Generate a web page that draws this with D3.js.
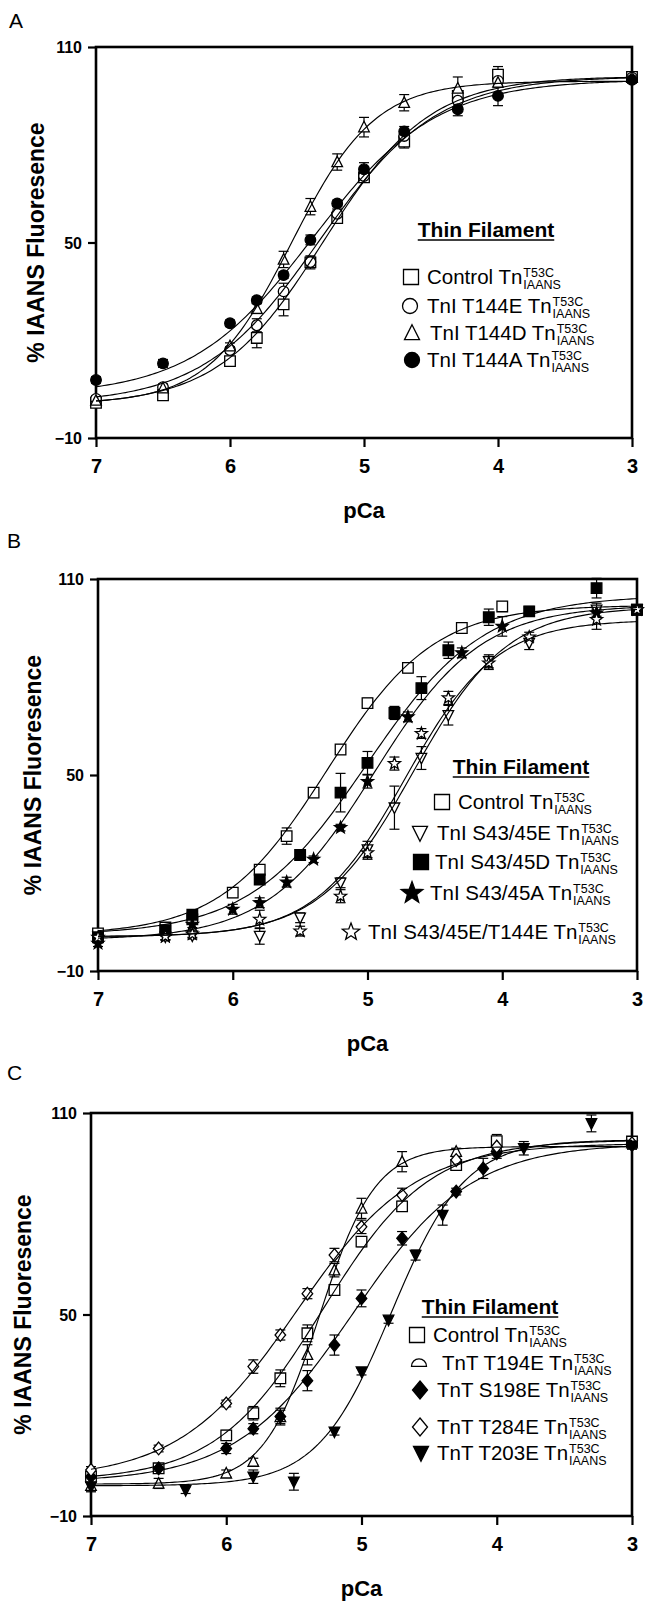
<!DOCTYPE html>
<html>
<head>
<meta charset="utf-8">
<script src="https://cdn.jsdelivr.net/npm/d3@7"></script>
<style>
  body { margin: 0; background: #fff; }
  svg { display: block; }
</style>
</head>
<body>
<svg id="fig" width="648" height="1604"></svg>
<script>
// ---------- shared axis ticks ----------
const pcaTicks = [7, 6, 5, 4, 3];
const fluorTicks = [-10, 50, 110];

// ---------- Panel A: TnI T144 mutants ----------
const aPCa = [7, 6.5, 6.0, 5.8, 5.6, 5.4, 5.2, 5.0, 4.7, 4.3, 4.0, 3.0];
const aControl    = [0.8, 3.1, 13.6, 20.7, 31.0, 43.9, 57.5, 70.0, 81.0, 95.0, 101.5, 100.8];
const aControlErr = [1, 1, 1.2, 3.0, 3.5, 2.0, 1.5, 1.5, 2.0, 1.5, 2.5, 1];
const aT144E      = [2.0, 5.6, 17.0, 24.6, 35.0, 44.0, 58.8, 70.4, 82.7, 93.5, 99.6, 100.6];
const aT144EErr   = [1, 1, 1, 2.0, 2.5, 1.5, 1.5, 1.5, 1.5, 2.0, 1.5, 1];
const aT144D      = [1.5, 5.3, 18.2, 29.7, 44.8, 61.0, 74.7, 85.4, 92.9, 97.3, 99.1, 100.6];
const aT144DErr   = [1, 1, 1, 1.5, 2.5, 2.5, 2.5, 3.0, 2.5, 3.5, 1.5, 1];
const aT144A      = [7.8, 12.9, 25.2, 32.3, 40.0, 50.8, 62.0, 72.5, 84.1, 90.9, 95.0, 99.9];
const aT144AErr   = [1, 1.2, 1, 1, 1, 1.5, 1, 2.0, 1.5, 2.0, 3.0, 1];
// Hill fits: [bottom, top, pCa50, Hill coefficient]
const aFitControl = [0, 101, 5.30, 1.1];
const aFitT144E   = [0.5, 101, 5.33, 1.0];
const aFitT144D   = [0.5, 99.5, 5.54, 1.4];
const aFitT144A   = [3, 100, 5.38, 0.95];

// ---------- Panel B: TnI S43/45 mutants ----------
const bControlPCa = [7, 6.5, 6.3, 6.0, 5.8, 5.6, 5.4, 5.2, 5.0, 4.7, 4.3, 4.0, 3.0];
const bControl    = [1.5, 3.3, 5.8, 14.0, 21.0, 31.3, 44.6, 57.8, 72.0, 82.8, 95.0, 101.6, 100.6];
const bControlErr = [1, 1, 1, 1.5, 1.5, 2.5, 1.5, 1.5, 1.5, 1.5, 1.5, 1.5, 1];
const bS4345EPCa  = [7, 6.5, 6.3, 5.8, 5.5, 5.2, 5.0, 4.8, 4.6, 4.4, 4.1, 3.8, 3.3, 3.0];
const bS4345E     = [0.5, 0.5, 0.8, 0.7, 6.3, 17.0, 27.2, 40.0, 55.2, 68.3, 84.8, 90.4, 100.6, 100.6];
const bS4345EErr  = [1, 1, 1, 2.5, 1.5, 1.5, 2.5, 6.6, 3.5, 3.0, 2.0, 2.0, 2.0, 1];
const bS4345DPCa  = [7, 6.5, 6.3, 5.8, 5.5, 5.2, 5.0, 4.8, 4.6, 4.4, 4.1, 3.8, 3.3, 3.0];
const bS4345D     = [0.3, 2.5, 7.2, 18.0, 25.5, 44.6, 53.7, 69.0, 76.6, 88.2, 98.3, 100.1, 107.2, 100.6];
const bS4345DErr  = [1, 1, 1.5, 1.5, 1.5, 5.9, 3.5, 2.0, 3.5, 2.5, 2.5, 1.5, 3.0, 1];
const bS4345APCa  = [7, 6.5, 6.3, 6.0, 5.8, 5.6, 5.4, 5.2, 5.0, 4.7, 4.3, 4.0, 3.3, 3.0];
const bS4345A     = [-1.5, 0.5, 4.3, 8.9, 10.9, 17.2, 24.2, 33.9, 48.0, 67.8, 87.4, 95.5, 99.6, 100.6];
const bS4345AErr  = [1, 1, 1, 1.5, 1.5, 1.5, 1, 1, 2.0, 1.5, 1.5, 3.0, 1.5, 1];
const bTriplePCa  = [7, 6.5, 6.3, 5.8, 5.5, 5.2, 5.0, 4.8, 4.6, 4.4, 4.1, 3.8, 3.3, 3.0];
const bTriple     = [0.3, 0.6, 1.3, 5.8, 2.2, 12.9, 26.2, 53.5, 62.7, 73.6, 84.3, 92.2, 97.6, 100.6];
const bTripleErr  = [1, 1, 1, 2.8, 1.5, 2.0, 2.0, 2.0, 1.5, 2.0, 2.0, 1.5, 3.0, 1];
const bFitControl = [1, 102, 5.30, 1.1];
const bFitS4345E  = [0.5, 101.5, 4.66, 1.25];
const bFitS4345D  = [1, 105, 5.01, 1.0];
const bFitS4345A  = [-0.5, 102, 4.95, 1.1];
const bFitTriple  = [0.5, 97.5, 4.72, 1.3];

// ---------- Panel C: TnT mutants ----------
const cControlPCa = [7, 6.5, 6.0, 5.8, 5.6, 5.4, 5.2, 5.0, 4.7, 4.3, 4.0, 3.0];
const cControl    = [1.7, 4.2, 14.0, 20.6, 31.0, 44.4, 57.3, 71.7, 82.2, 94.5, 101.6, 101.5];
const cControlErr = [1, 1, 1.5, 2.0, 2.5, 2.5, 1.5, 1.5, 1.5, 1.5, 2.0, 1];
const cT194EPCa   = [7, 6.5, 6.0, 5.8, 5.6, 5.4, 5.2, 5.0, 4.7, 4.3, 4.0, 3.0];
const cT194E      = [-1.0, -0.3, 2.7, 6.2, 19.5, 38.0, 63.2, 81.6, 95.5, 98.5, 100.0, 101.0];
const cT194EErr   = [1.5, 1.5, 1, 1, 2.0, 3.0, 2.0, 3.0, 3.0, 1, 1.5, 1];
const cS198EPCa   = [7, 6.5, 6.0, 5.8, 5.6, 5.4, 5.2, 5.0, 4.7, 4.3, 4.1, 4.0, 3.0];
const cS198E      = [1.7, 4.2, 10.1, 16.0, 19.6, 30.3, 40.9, 54.8, 72.7, 86.6, 93.5, 98.0, 100.5];
const cS198EErr   = [1, 1, 1.5, 1.5, 2.5, 3.0, 3.0, 2.5, 2.0, 1, 3.0, 1.5, 1];
const cT284EPCa   = [7, 6.5, 6.0, 5.8, 5.6, 5.4, 5.2, 5.0, 4.7, 4.3, 4.0, 3.0];
const cT284E      = [3.7, 10.1, 23.5, 34.5, 43.9, 56.2, 67.7, 76.1, 85.6, 96.0, 100.0, 101.0];
const cT284EErr   = [1, 1, 1, 2.0, 1.5, 1.5, 2.0, 2.0, 2.0, 1, 1.5, 1];
const cT203EPCa   = [7, 6.3, 5.8, 5.5, 5.2, 5.0, 4.8, 4.6, 4.4, 3.8, 3.3, 3.0];
const cT203E      = [-1.3, -2.3, 1.7, 0.2, 15.1, 33.0, 48.4, 67.7, 79.6, 99.5, 106.9, 100.2];
const cT203EErr   = [1.5, 1, 2.0, 2.5, 1, 1, 1, 1.5, 3.0, 2.0, 2.5, 1];
const cFitControl = [0.5, 102, 5.29, 1.1];
const cFitT194E   = [-0.5, 100, 5.31, 2.1];
const cFitS198E   = [0, 101, 5.06, 1.0];
const cFitT284E   = [1, 101, 5.48, 1.0];
const cFitT203E   = [-1, 102, 4.78, 1.6];

// ---------- figure layout ----------
const panels = [
  {
    letter: "A", letterX: 9, letterY: 28,
    box: { x0: 96, x1: 632, y0: 47, y1: 438 }, yLabelX: 36,
    title: { cx: 486, y: 237 },
    series: [
      { label: "Control",   pca: aPCa, val: aControl, err: aControlErr, mark: "square",     key: "square",     fit: aFitControl, lg: { sx: 411, tx: 427, y: 284 } },
      { label: "TnI T144E", pca: aPCa, val: aT144E,   err: aT144EErr,   mark: "circle",     key: "circle",     fit: aFitT144E,   lg: { sx: 410, tx: 427, y: 313 } },
      { label: "TnI T144D", pca: aPCa, val: aT144D,   err: aT144DErr,   mark: "triUp",      key: "triUp",      fit: aFitT144D,   lg: { sx: 412, tx: 430, y: 340 } },
      { label: "TnI T144A", pca: aPCa, val: aT144A,   err: aT144AErr,   mark: "circleFill", key: "circleFill", fit: aFitT144A,   lg: { sx: 412, tx: 427, y: 367 } }
    ]
  },
  {
    letter: "B", letterX: 7, letterY: 548,
    box: { x0: 98, x1: 637, y0: 579, y1: 971 }, yLabelX: 33,
    title: { cx: 521, y: 774 },
    series: [
      { label: "Control",            pca: bControlPCa, val: bControl, err: bControlErr, mark: "square",     key: "square",     fit: bFitControl, lg: { sx: 442, tx: 458, y: 809 } },
      { label: "TnI S43/45E",        pca: bS4345EPCa,  val: bS4345E,  err: bS4345EErr,  mark: "triDown",    key: "triDown",    fit: bFitS4345E,  lg: { sx: 420, tx: 437, y: 840 } },
      { label: "TnI S43/45D",        pca: bS4345DPCa,  val: bS4345D,  err: bS4345DErr,  mark: "squareFill", key: "squareFill", fit: bFitS4345D,  lg: { sx: 421, tx: 435, y: 869 } },
      { label: "TnI S43/45A",        pca: bS4345APCa,  val: bS4345A,  err: bS4345AErr,  mark: "starFill",   key: "starFill",   fit: bFitS4345A,  lg: { sx: 412, tx: 430, y: 900 } },
      { label: "TnI S43/45E/T144E",  pca: bTriplePCa,  val: bTriple,  err: bTripleErr,  mark: "star",       key: "star",       fit: bFitTriple,  lg: { sx: 351, tx: 368, y: 939 } }
    ]
  },
  {
    letter: "C", letterX: 7, letterY: 1080,
    box: { x0: 91, x1: 632, y0: 1113, y1: 1516 }, yLabelX: 23,
    title: { cx: 490, y: 1314 },
    series: [
      { label: "Control",    pca: cControlPCa, val: cControl, err: cControlErr, mark: "square",      key: "square",      fit: cFitControl, lg: { sx: 417, tx: 433, y: 1342 } },
      { label: "TnT T194E",  pca: cT194EPCa,   val: cT194E,   err: cT194EErr,   mark: "triUp",       key: "dome",        fit: cFitT194E,   lg: { sx: 419, tx: 442, y: 1370 } },
      { label: "TnT S198E",  pca: cS198EPCa,   val: cS198E,   err: cS198EErr,   mark: "diamondFill", key: "diamondFill", fit: cFitS198E,   lg: { sx: 420, tx: 437, y: 1397 } },
      { label: "TnT T284E",  pca: cT284EPCa,   val: cT284E,   err: cT284EErr,   mark: "diamond",     key: "diamond",     fit: cFitT284E,   lg: { sx: 420, tx: 437, y: 1434 } },
      { label: "TnT T203E",  pca: cT203EPCa,   val: cT203E,   err: cT203EErr,   mark: "triDownFill", key: "triDownFill", fit: cFitT203E,   lg: { sx: 421, tx: 437, y: 1460 } }
    ]
  }
];

const NARROW = "'Liberation Sans Narrow', 'Arial Narrow', 'Liberation Sans', Arial, sans-serif";
const SANS = "'Liberation Sans', Arial, Helvetica, sans-serif";

const svg = d3.select("#fig");

// Hill equation used for the fitted calcium-binding curves
function hill(fit, pca) {
  const [bottom, top, p50, n] = fit;
  return bottom + (top - bottom) / (1 + Math.pow(10, n * (pca - p50)));
}

// marker outlines centred on the origin, r = half width
function markerPath(type, r) {
  const base = type.replace("Fill", "");
  if (base === "square") return `M${-r},${-r}H${r}V${r}H${-r}Z`;
  if (base === "circle") return `M${r},0A${r},${r} 0 1,1 ${-r},0A${r},${r} 0 1,1 ${r},0Z`;
  if (base === "triUp") {
    const h = r * 1.1;
    return `M0,${-h}L${r},${h * 0.8}L${-r},${h * 0.8}Z`;
  }
  if (base === "triDown") {
    const h = r * 1.1;
    return `M0,${h}L${r},${-h * 0.8}L${-r},${-h * 0.8}Z`;
  }
  if (base === "diamond") return `M0,${-r * 1.2}L${r},0L0,${r * 1.2}L${-r},0Z`;
  if (base === "dome") {
    const c = r * 0.45;
    return `M${-r},${c}A${r},${r} 0 0,1 ${r},${c}Z`;
  }
  if (base === "star") {
    const R = r * 1.2, ri = R * 0.42;
    let d = "";
    for (let i = 0; i < 10; i++) {
      const rad = i % 2 === 0 ? R : ri;
      const a = -Math.PI / 2 + i * Math.PI / 5;
      d += (i === 0 ? "M" : "L") + (rad * Math.cos(a)).toFixed(2) + "," + (rad * Math.sin(a)).toFixed(2);
    }
    return d + "Z";
  }
  return "";
}

function drawMarker(g, type, x, y, r, sw) {
  g.append("path")
    .attr("d", markerPath(type, r))
    .attr("transform", `translate(${x},${y})`)
    .attr("fill", type.endsWith("Fill") ? "#000" : "#fff")
    .attr("stroke", "#000")
    .attr("stroke-width", sw)
    .attr("stroke-linejoin", "miter");
}

panels.forEach(p => {
  const { x0, x1, y0, y1 } = p.box;
  const x = d3.scaleLinear().domain([7, 3]).range([x0, x1]);
  const y = d3.scaleLinear().domain([-10, 110]).range([y1, y0]);
  const g = svg.append("g");

  // panel letter
  g.append("text").attr("x", p.letterX).attr("y", p.letterY)
    .attr("font-family", SANS).attr("font-size", 21).text(p.letter);

  // axes
  const xAxis = g.append("g").attr("transform", `translate(0,${y1})`)
    .call(d3.axisBottom(x).tickValues(pcaTicks).tickFormat(d3.format("d")).tickSize(9).tickSizeOuter(0));
  xAxis.select(".domain").remove();
  xAxis.selectAll(".tick line").attr("stroke", "#000").attr("stroke-width", 2.2);
  xAxis.selectAll(".tick text").attr("font-family", NARROW).attr("font-weight", "bold")
    .attr("font-size", 20).attr("fill", "#000").attr("dy", null).attr("y", 35);

  const yAxis = g.append("g").attr("transform", `translate(${x0},0)`)
    .call(d3.axisLeft(y).tickValues(fluorTicks).tickSize(8).tickSizeOuter(0));
  yAxis.select(".domain").remove();
  yAxis.selectAll(".tick line").attr("stroke", "#000").attr("stroke-width", 2.2);
  yAxis.selectAll(".tick text").attr("font-family", NARROW).attr("font-weight", "bold")
    .attr("font-size", 16).attr("fill", "#000").attr("x", -14).attr("dy", "0.36em");

  // frame
  g.append("rect").attr("x", x0).attr("y", y0).attr("width", x1 - x0).attr("height", y1 - y0)
    .attr("fill", "none").attr("stroke", "#000").attr("stroke-width", 2.6);

  // axis titles
  g.append("text").attr("x", (x0 + x1) / 2).attr("y", y1 + 80)
    .attr("text-anchor", "middle").attr("font-family", NARROW).attr("font-weight", "bold")
    .attr("font-size", 22).text("pCa");
  g.append("text")
    .attr("transform", `translate(${p.yLabelX},${(y0 + y1) / 2}) rotate(-90)`)
    .attr("text-anchor", "middle").attr("dominant-baseline", "central")
    .attr("font-family", SANS).attr("font-weight", "bold").attr("font-size", 23)
    .text("% IAANS Fluoresence");

  // error bars
  const eb = g.append("g").attr("stroke", "#000").attr("stroke-width", 1.2);
  p.series.forEach(s => {
    s.pca.forEach((pc, i) => {
      const e = s.err[i];
      const cx = x(pc), ylo = y(s.val[i] - e), yhi = y(s.val[i] + e);
      eb.append("line").attr("x1", cx).attr("x2", cx).attr("y1", ylo).attr("y2", yhi);
      eb.append("line").attr("x1", cx - 5).attr("x2", cx + 5).attr("y1", yhi).attr("y2", yhi);
      eb.append("line").attr("x1", cx - 5).attr("x2", cx + 5).attr("y1", ylo).attr("y2", ylo);
    });
  });

  // data points
  const pts = g.append("g");
  p.series.forEach(s => {
    s.pca.forEach((pc, i) => drawMarker(pts, s.mark, x(pc), y(s.val[i]), 5.3, 1.3));
  });

  // fitted curves
  const line = d3.line().x(d => x(d[0])).y(d => y(d[1])).curve(d3.curveLinear);
  const grid = d3.range(7, 2.999, -0.02);
  p.series.forEach(s => {
    g.append("path").datum(grid.map(pc => [pc, hill(s.fit, pc)]))
      .attr("d", line).attr("fill", "none").attr("stroke", "#000").attr("stroke-width", 1.15);
  });

  // legend
  const lg = g.append("g");
  const title = lg.append("text").attr("x", p.title.cx).attr("y", p.title.y)
    .attr("text-anchor", "middle").attr("font-family", SANS).attr("font-weight", "bold")
    .attr("font-size", 21).text("Thin Filament");
  const tw = title.node().getComputedTextLength();
  lg.append("line").attr("x1", p.title.cx - tw / 2).attr("x2", p.title.cx + tw / 2)
    .attr("y1", p.title.y + 3).attr("y2", p.title.y + 3).attr("stroke", "#000").attr("stroke-width", 1.4);

  p.series.forEach(s => {
    const L = s.lg;
    const big = s.key === "starFill" ? 9.5 : 7.5;
    drawMarker(lg, s.key, L.sx, L.y - 7, big, 1.3);
    const t = lg.append("text").attr("x", L.tx).attr("y", L.y)
      .attr("font-family", SANS).attr("font-size", 20.5).text(s.label + " Tn");
    const w = t.node().getComputedTextLength();
    lg.append("text").attr("x", L.tx + w + 1).attr("y", L.y - 7)
      .attr("font-family", SANS).attr("font-size", 12.5).text("T53C");
    lg.append("text").attr("x", L.tx + w + 1).attr("y", L.y + 4.5)
      .attr("font-family", SANS).attr("font-size", 12.5).text("IAANS");
  });
});
</script>
</body>
</html>
